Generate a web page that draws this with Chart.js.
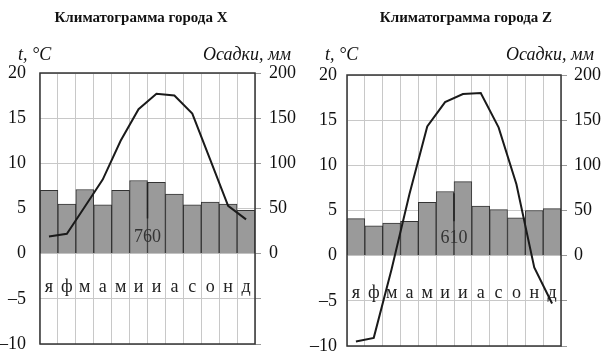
<!DOCTYPE html>
<html>
<head>
<meta charset="utf-8">
<script src="https://cdn.jsdelivr.net/npm/chart.js@4.4.0/dist/chart.umd.min.js"></script>
<style>
  body { margin: 0; background: #fff; }
  .wrap { position: relative; width: 606px; height: 362px; }
  canvas { position: absolute; top: 0; }
</style>
</head>
<body>
<div class="wrap">
  <canvas id="cx" width="303" height="362" style="left:0"></canvas>
  <canvas id="cz" width="303" height="362" style="left:303px"></canvas>
</div>
<script>
// ===== data =====
const months = ['я', 'ф', 'м', 'а', 'м', 'и', 'и', 'а', 'с', 'о', 'н', 'д'];
const tempX = [1.9, 2.2, 5.2, 8.2, 12.5, 16, 17.7, 17.5, 15.5, 10.4, 5.3, 3.8];
const precipX = [70, 55, 71, 54, 70, 81, 79, 66, 54, 57, 55, 48];
const tempZ = [-9.5, -9.1, -1.5, 6.8, 14.3, 17, 17.9, 18, 14.2, 7.9, -1.3, -5.3];
const precipZ = [41, 33, 36, 38, 59, 71, 82, 55, 51, 42, 50, 52];
const tempTicks = [-10, -5, 0, 5, 10, 15, 20];
const precipTicks = [0, 50, 100, 150, 200];

const SERIF = '"Liberation Serif", "DejaVu Serif", serif';

function makeChart(id, temps, precip, o) {
  const total = precip.reduce((a, b) => a + b, 0);

  // frame, titles, month letters, annual total
  const decor = {
    id: 'decor',
    beforeDatasetsDraw(chart) {
      const { ctx, scales } = chart;
      ctx.save();
      ctx.fillStyle = '#222';
      ctx.font = '18px ' + SERIF;
      ctx.textAlign = 'center';
      ctx.textBaseline = 'middle';
      months.forEach((m, i) => {
        ctx.fillText(m, scales.x.getPixelForValue(i), scales.y.getPixelForValue(o.monthY));
      });
      ctx.restore();
    },
    afterDatasetsDraw(chart) {
      const { ctx, scales, chartArea: a } = chart;
      ctx.save();
      // pointer to annual total
      const xm = (scales.x.getPixelForValue(5) + scales.x.getPixelForValue(6)) / 2;
      ctx.strokeStyle = '#222';
      ctx.lineWidth = 1.5;
      ctx.beginPath();
      ctx.moveTo(xm, scales.mm.getPixelForValue(o.ptrTop));
      ctx.lineTo(xm, scales.mm.getPixelForValue(o.ptrBottom));
      ctx.stroke();
      ctx.fillStyle = '#333';
      ctx.font = '18px ' + SERIF;
      ctx.textAlign = 'center';
      ctx.textBaseline = 'middle';
      ctx.fillText(String(total), xm, scales.mm.getPixelForValue(o.totalY));

      // frame
      ctx.strokeStyle = '#333';
      ctx.lineWidth = 1.5;
      ctx.strokeRect(a.left, a.top, a.right - a.left, a.bottom - a.top);

      // titles
      ctx.fillStyle = '#111';
      ctx.font = 'bold 15px ' + SERIF;
      ctx.fillText(o.title, o.titleX, 18);
      ctx.font = 'italic 18px ' + SERIF;
      ctx.textAlign = 'left';
      ctx.fillText('t, °C', o.tX, 55);
      ctx.textAlign = 'right';
      ctx.fillText('Осадки, мм', 291, 55);
      ctx.restore();
    }
  };

  return new Chart(document.getElementById(id), {
    data: {
      labels: months,
      datasets: [{
        type: 'line',
        data: temps,
        yAxisID: 'y',
        borderColor: '#1a1a1a',
        borderWidth: 2,
        pointRadius: 0,
        tension: 0,
        order: 0
      }, {
        type: 'bar',
        data: precip,
        yAxisID: 'mm',
        backgroundColor: '#9a9a9a',
        borderColor: '#333',
        borderWidth: 1,
        categoryPercentage: 1,
        barPercentage: 1,
        order: 1
      }]
    },
    options: {
      responsive: false,
      animation: false,
      layout: { padding: { top: o.top, bottom: o.bottom, left: 0, right: 0 } },
      plugins: { legend: { display: false }, tooltip: { enabled: false }, title: { display: false } },
      scales: {
        x: {
          offset: true,
          grid: { offset: true, color: '#c8c8c8', drawTicks: false },
          border: { display: false },
          ticks: { display: false },
          afterFit(s) { s.height = 0; s.paddingLeft = 0; s.paddingRight = 0; }
        },
        y: {
          position: 'left',
          min: tempTicks[0],
          max: tempTicks[tempTicks.length - 1],
          afterBuildTicks(s) { s.ticks = tempTicks.map(v => ({ value: v })); },
          grid: { color: '#c8c8c8', drawTicks: false },
          border: { display: false },
          ticks: {
            padding: o.leftPad,
            color: '#111',
            font: { family: SERIF, size: 18 },
            callback: v => (v < 0 ? '\u2013' + Math.abs(v) : String(v))
          },
          afterFit(s) { s.width = o.left; s.paddingTop = 0; s.paddingBottom = 0; }
        },
        mm: {
          position: 'right',
          min: tempTicks[0] * 10,
          max: tempTicks[tempTicks.length - 1] * 10,
          afterBuildTicks(s) { s.ticks = tempTicks.map(v => ({ value: v * 10 })); },
          grid: { drawOnChartArea: false, color: '#999', tickLength: 6 },
          border: { display: false },
          ticks: {
            padding: o.rightPad,
            color: '#111',
            font: { family: SERIF, size: 18 },
            callback: v => (precipTicks.includes(v) ? String(v) : '')
          },
          afterFit(s) { s.width = o.right; s.paddingTop = 0; s.paddingBottom = 0; }
        }
      }
    },
    plugins: [decor]
  });
}

makeChart('cx', tempX, precipX, {
  title: 'Климатограмма города X', titleX: 141, tX: 18,
  left: 40, right: 48, top: 73, bottom: 18, leftPad: 14, rightPad: 8,
  monthY: -3.7, ptrTop: 79, ptrBottom: 39, totalY: 18
});
makeChart('cz', tempZ, precipZ, {
  title: 'Климатограмма города Z', titleX: 163, tX: 22,
  left: 44, right: 45, top: 75, bottom: 16, leftPad: 10, rightPad: 7,
  monthY: -4.2, ptrTop: 69, ptrBottom: 38, totalY: 19
});
</script>
</body>
</html>
